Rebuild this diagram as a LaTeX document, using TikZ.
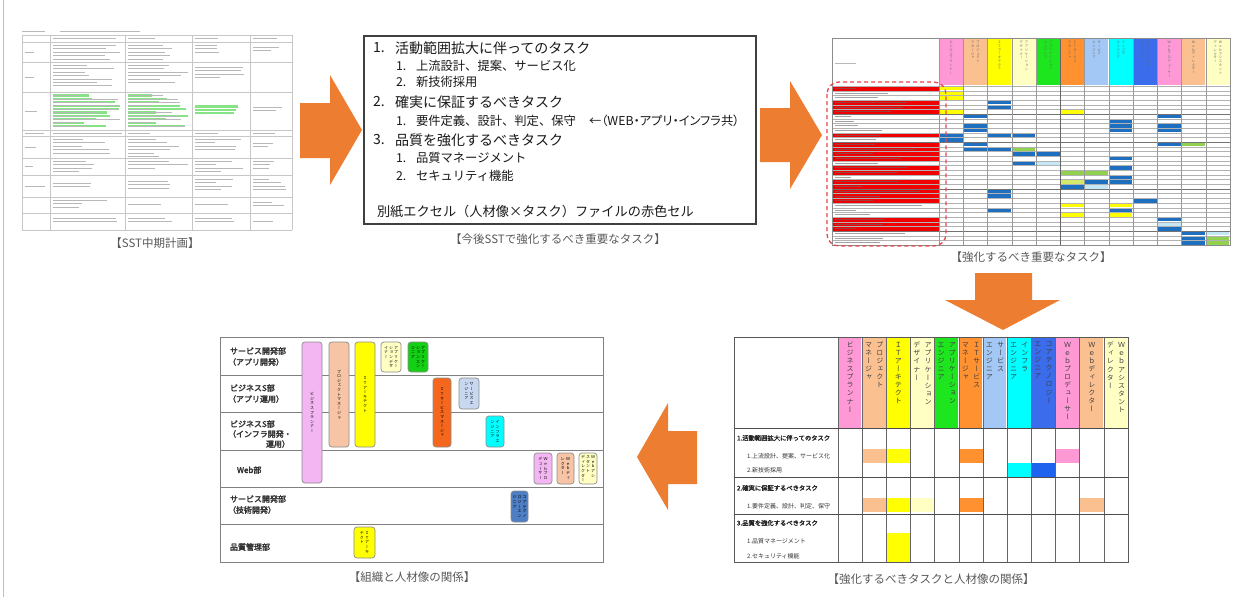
\documentclass[tikz,border=0pt]{standalone}
\usepackage{fontspec}
\setmainfont{Noto Sans CJK JP}[AutoFakeBold=2.5]
\newfontfamily\vfont{Noto Sans CJK JP}[RawFeature=+vert]
\newfontfamily\pfont{Noto Sans CJK JP}[RawFeature=+palt]
\ExplSyntaxOn
\NewDocumentCommand \vcol { O{1.15} m }
  {
    \vtop
      {
        \baselineskip = #1 em
        \lineskiplimit = -100pt
        \lineskip = 0pt
        \tl_map_inline:nn {#2} { \hbox_to_wd:nn {1em} { \hss ##1 \hss } }
      }
  }
\ExplSyntaxOff
\newcommand\vtwo[3][0.6em]{\hbox{\vcol{#3}\hspace{#1}\vcol{#2}}}
\newcommand\vthree[4][0.25em]{\hbox{\vcol{#4}\hspace{#1}\vcol{#3}\hspace{#1}\vcol{#2}}}
\newcommand\hdA{\vcol{ビジネスプランナー}}
\newcommand\hdB{\vtwo{プロジェクト}{マネージャ}}
\newcommand\hdC{\vcol{ＩＴアーキテクト}}
\newcommand\hdD{\vtwo{アプリケーション}{デザイナー}}
\newcommand\hdE{\vtwo{アプリケーション}{エンジニア}}
\newcommand\hdF{\vtwo{ＩＴサービス}{マネージャ}}
\newcommand\hdG{\vtwo{サービス}{エンジニア}}
\newcommand\hdH{\vtwo{インフラ}{エンジニア}}
\newcommand\hdI{\vtwo{コアテクノロジー}{エンジニア}}
\newcommand\hdJ{\vcol{Ｗｅｂプロデューサー}}
\newcommand\hdK{\vcol{Ｗｅｂディレクター}}
\newcommand\hdL{\vtwo{Ｗｅｂアシスタント}{ディレクター}}
\definecolor{arr}{HTML}{ED7D31}
\definecolor{cPink}{HTML}{FF99D6}
\definecolor{cPeach}{HTML}{FAC090}
\definecolor{cYel}{HTML}{FFFF00}
\definecolor{cPale}{HTML}{FFFFC4}
\definecolor{cGreen}{HTML}{1EE61E}
\definecolor{cOrange}{HTML}{FF9130}
\definecolor{cLBlue}{HTML}{A3C8F5}
\definecolor{cCyan}{HTML}{00FFFF}
\definecolor{cBlue}{HTML}{3A6CEB}
\definecolor{cBlue2}{HTML}{1D63EE}
\definecolor{cellB}{HTML}{1F6FC0}
\definecolor{cellG}{HTML}{92D050}
\definecolor{cellL}{HTML}{C5E8F7}
\definecolor{cellYG}{HTML}{D4E86A}
\definecolor{cellY}{HTML}{FFFF00}
\definecolor{xlred}{HTML}{F00000}
\definecolor{dashred}{HTML}{E8464A}
\definecolor{capgray}{HTML}{595959}
\definecolor{oPink}{HTML}{F4B6F2}
\definecolor{oPeach}{HTML}{F7C5A5}
\definecolor{oGreen}{HTML}{14D014}
\definecolor{oOrange}{HTML}{F5671C}
\definecolor{oLBlue}{HTML}{C8D8F0}
\definecolor{oBlue}{HTML}{4E7EC4}
\definecolor{hlgreen}{HTML}{86E486}
\newcommand\tls[5]{\foreach \ii in {1,...,#4}{\pgfmathsetmacro\ll{#1+3+(#3-#1-6)*(0.35+0.65*rnd)}\draw[#5] ({#1+3},{#2+\ii*3.4}) -- (\ll,{#2+\ii*3.4});}}
\newcommand\obx[7]{\node[obox,fill=#6,minimum width={#4-#2},minimum height={#5-#3},font=\vfont\fontsize{4}{5}\selectfont] (#1) at ({(#2+#4)/2},{(#3+#5)/2}) {#7};}
\begin{document}
\begin{tikzpicture}[x=1pt,y=-1pt,
  every node/.style={inner sep=0pt,outer sep=0pt},
  captxt/.style={text=capgray,font=\fontsize{11.5}{12}\selectfont},
  obox/.style={draw=black!45,line width=0.7pt,rounded corners=3pt},
  tgray/.style={line width=1pt,black!28},
  tgreen/.style={line width=2.2pt,hlgreen},
  blockarrow/.style={fill=arr},
  lbltxt/.style={anchor=west,text=black!80,font=\bfseries\fontsize{8}{9}\selectfont},
  sectxt/.style={anchor=west,text=black!85,font=\bfseries\fontsize{6.3}{7}\selectfont},
  subtxt/.style={anchor=west,text=black!80,font=\fontsize{6}{7}\selectfont},
  bigtxt/.style={anchor=west,text=black!90,font=\fontsize{14}{16}\selectfont},
  midtxt/.style={anchor=west,text=black!90,font=\fontsize{12.3}{14}\selectfont}]
\pgfmathsetseed{7}
\useasboundingbox (0,0) rectangle (1244,597);
\fill[white] (0,0) rectangle (1244,597);
\draw[black!25,line width=0.8pt] (3,0) -- (3,597);

% ---------- top-left: spreadsheet thumbnail ----------
\draw[tgray,line width=0.8pt] (22,31) -- (45,31);
\draw[tgray,line width=0.8pt] (60,31) -- (140,31);
\foreach \yy in {35,42,62,92,130,136,158,175,197,213,230} \draw[black!22,line width=0.4pt] (22,\yy) -- (292,\yy);
\foreach \xx in {22,50,125,192,250,292} \draw[black!22,line width=0.4pt] (\xx,35) -- (\xx,230);
\tls{50}{35}{125}{1}{tgray}\tls{125}{35}{192}{1}{tgray}\tls{192}{35}{250}{1}{tgray}\tls{250}{35}{292}{1}{tgray}
\tls{22}{48.6}{50}{1}{tgray}\tls{50}{42}{125}{5}{tgray}\tls{125}{42}{192}{5}{tgray}\tls{192}{42}{250}{3}{tgray}\tls{250}{44}{292}{2}{tgray}
\tls{22}{73.6}{50}{1}{tgray}\tls{50}{62}{125}{7}{tgray}\tls{125}{62}{192}{6}{tgray}\tls{192}{64}{250}{4}{tgray}
\tls{22}{107.6}{50}{1}{tgray}\tls{50}{92}{125}{10}{tgreen}\tls{125}{92}{192}{10}{tgreen}\tls{192}{103}{250}{3}{tgreen}\tls{250}{104}{292}{2}{tgray}
\tls{50}{92}{125}{10}{tgray,line width=0.6pt}\tls{125}{92}{192}{10}{tgray,line width=0.6pt}
\tls{22}{129.6}{50}{1}{tgray}\tls{50}{129.6}{125}{1}{tgray}\tls{125}{129.6}{192}{1}{tgray}\tls{192}{129.6}{250}{1}{tgray}\tls{250}{129.6}{292}{1}{tgray}
\tls{22}{143.6}{50}{1}{tgray}\tls{50}{136}{125}{5}{tgray}\tls{125}{136}{192}{6}{tgray}\tls{192}{136}{250}{4}{tgray}\tls{250}{140}{292}{2}{tgray}
\tls{22}{163}{50}{1}{tgray}\tls{50}{158}{125}{4}{tgray}\tls{125}{158}{192}{3}{tgray}\tls{192}{158}{250}{4}{tgray}\tls{250}{158}{292}{3}{tgray}
\tls{22}{182.6}{50}{1}{tgray}\tls{50}{180}{125}{2}{tgray}\tls{125}{178}{192}{3}{tgray}\tls{192}{176}{250}{4}{tgray}\tls{250}{176}{292}{4}{tgray}
\tls{50}{197}{125}{3}{tgray}\tls{125}{201}{192}{1}{tgray}\tls{192}{201}{250}{1}{tgray}\tls{250}{199}{292}{2}{tgray}
\tls{50}{215}{125}{2}{tgray}\tls{125}{215}{192}{2}{tgray}\tls{192}{215}{250}{2}{tgray}\tls{250}{218}{292}{1}{tgray}
\node[captxt] (cap1) at (155,243) {【SST中期計画】};

% ---------- arrows ----------
\fill[blockarrow] (300,103) -- (330,103) -- (330,75) -- (362,130) -- (330,185) -- (330,158) -- (300,158) -- cycle;
\fill[blockarrow] (760,108) -- (790,108) -- (790,81) -- (822,135) -- (790,189) -- (790,162) -- (760,162) -- cycle;
\fill[blockarrow] (975,273) -- (1032,273) -- (1032,300) -- (1060,300) -- (1003,330) -- (945,300) -- (975,300) -- cycle;
\fill[blockarrow] (697,431) -- (697,484) -- (668,484) -- (668,510) -- (637,457) -- (668,403) -- (668,431) -- cycle;

% ---------- center task box ----------
\node[draw=black!75,line width=1.4pt,minimum width=392,minimum height=188,anchor=north west] (tasks) at (364,36) {};
\node[bigtxt] (n1) at (373,48) {1.};
\node[bigtxt] (t1) at (395,48) {活動範囲拡大に伴ってのタスク};
\node[midtxt] (n11) at (396,66) {1.};
\node[midtxt] (t11) at (416,66) {上流設計、提案、サービス化};
\node[midtxt] (n12) at (396,82) {2.};
\node[midtxt] (t12) at (416,82) {新技術採用};
\node[bigtxt] (n2) at (373,102) {2.};
\node[bigtxt] (t2) at (395,102) {確実に保証するべきタスク};
\node[midtxt] (n21) at (396,121) {1.};
\node[midtxt] (t21) at (416,121) {要件定義、設計、判定、保守};
\node[anchor=west,text=black!90,font=\pfont\fontsize{12.3}{14}\selectfont] (t21b) at (589,121) {←（WEB・アプリ・インフラ共）};
\node[bigtxt] (n3) at (373,140) {3.};
\node[bigtxt] (t3) at (395,140) {品質を強化するべきタスク};
\node[midtxt] (n31) at (396,158) {1.};
\node[midtxt] (t31) at (416,158) {品質マネージメント};
\node[midtxt] (n32) at (396,176) {2.};
\node[midtxt] (t32) at (416,176) {セキュリティ機能};
\node[anchor=west,text=black!90,font=\fontsize{13.2}{15}\selectfont] (t4) at (377,212) {別紙エクセル（人材像×タスク）ファイルの赤色セル};
\node[captxt] (cap2) at (558,239) {【今後SSTで強化するべき重要なタスク】};

% ---------- top-right: excel thumbnail ----------
\def\TRx{939}\def\TRw{24.25}\def\TRy{86}\def\TRh{4.68}
\foreach \c/\col in {1/cPink,2/cPeach,3/cYel,4/cPale,5/cGreen,6/cOrange,7/cLBlue,8/cCyan,9/cBlue,10/cPink,11/cPeach,12/cPale}
  \fill[\col] ({\TRx+(\c-1)*\TRw+0.5},38.5) rectangle ({\TRx+\c*\TRw-0.5},85);
\foreach \c/\txt in {1/\hdA,2/\hdB,3/\hdC,4/\hdD,5/\hdE,6/\hdF,7/\hdG,8/\hdH,9/\hdI,10/\hdJ,11/\hdK,12/\hdL}
  \node[anchor=north,text=black!60,font=\vfont\fontsize{3.3}{4}\selectfont] (trh\c) at ({\TRx+(\c-0.5)*\TRw},41) {\txt};
\draw[tgray,line width=0.8pt] (835,63) -- (856,63);
\foreach \r in {0,3,4,5,10,12,13,14,15,17,18,20,21,22,23,24,28,29,30}
  \fill[xlred] (832,{\TRy+\r*\TRh}) rectangle (939,{\TRy+(\r+1)*\TRh});
\foreach \r in {0,...,33}{
  \pgfmathsetmacro\ll{850+75*rnd}
  \draw[line width=0.9pt,black!60,opacity=0.6] (835,{\TRy+(\r+0.5)*\TRh}) -- (\ll,{\TRy+(\r+0.5)*\TRh});
}
\foreach \r/\c/\col in {0/1/cellY,1/1/cellY,2/1/cellY,3/3/cellB,4/3/cellB,5/1/cellY,5/6/cellY,6/2/cellB,6/10/cellB,7/8/cellB,8/2/cellB,8/8/cellB,8/10/cellB,9/2/cellB,9/8/cellB,9/10/cellB,10/1/cellB,10/3/cellB,10/4/cellB,11/1/cellB,12/2/cellB,12/10/cellB,12/11/cellG,13/2/cellB,13/3/cellB,13/4/cellG,14/4/cellB,14/5/cellB,15/8/cellB,16/4/cellB,16/5/cellL,17/8/cellB,18/6/cellG,18/7/cellG,19/8/cellB,20/6/cellYG,20/7/cellB,20/8/cellB,21/6/cellB,21/7/cellL,22/3/cellB,23/3/cellB,24/9/cellB,25/6/cellY,25/8/cellY,26/3/cellB,26/8/cellB,27/6/cellY,27/8/cellY,28/10/cellB,29/10/cellL,30/10/cellB,31/11/cellB,31/12/cellL,32/11/cellB,32/12/cellG,33/11/cellB,33/12/cellG}
  \fill[\col] ({\TRx+(\c-1)*\TRw+0.6},{\TRy+\r*\TRh+0.4}) rectangle ({\TRx+\c*\TRw-0.6},{\TRy+(\r+1)*\TRh-0.4});
\foreach \r in {0,...,34} \draw[black!30,line width=0.3pt] (832,{\TRy+\r*\TRh}) -- (1230,{\TRy+\r*\TRh});
\foreach \r in {6,12,22,31} \draw[black!55,line width=0.7pt] (832,{\TRy+\r*\TRh}) -- (1230,{\TRy+\r*\TRh});
\foreach \c in {0,...,12} \draw[black!40,line width=0.4pt] ({\TRx+\c*\TRw},38) -- ({\TRx+\c*\TRw},245);
\draw[black!60,line width=0.8pt] ({\TRx+5*\TRw},38) -- ({\TRx+5*\TRw},245);
\draw[black!45,line width=0.5pt] (832,38) rectangle (1230,245);
\draw[dashred,line width=1.3pt,dash pattern=on 4pt off 3pt,rounded corners=12pt] (827,82) rectangle (946,246);
\node[captxt] (cap3) at (1031,257) {【強化するべき重要なタスク】};

% ---------- bottom-right: task x role table ----------
\def\BRx{838}\def\BRw{24.1667}
\foreach \c/\col in {1/cPink,2/cPeach,3/cYel,4/cPale,5/cGreen,6/cOrange,7/cLBlue,8/cCyan,9/cBlue,10/cPink,11/cPeach,12/cPale}
  \fill[\col] ({\BRx+(\c-1)*\BRw+0.8},338) rectangle ({\BRx+\c*\BRw-0.8},427.5);
\foreach \c/\txt in {1/\hdA,2/\hdB,3/\hdC,4/\hdD,5/\hdE,6/\hdF,7/\hdG,8/\hdH,9/\hdI,10/\hdJ,11/\hdK,12/\hdL}
  \node[anchor=north,text=black!75,font=\vfont\fontsize{7}{8}\selectfont] (brh\c) at ({\BRx+(\c-0.5)*\BRw},342) {\txt};
\foreach \c/\ya/\yb/\col in {2/449/463/cPeach,3/449/463/cYel,6/449/463/cOrange,10/449/463/cPink,8/463/477/cCyan,9/463/477/cBlue2,2/498/512/cPeach,3/498/512/cYel,4/498/512/cPale,6/498/512/cOrange,11/498/512/cPeach,3/533/562/cYel}
  \fill[\col] ({\BRx+(\c-1)*\BRw},\ya) rectangle ({\BRx+\c*\BRw},\yb);
\foreach \c in {0,...,12} \draw[black!60,line width=0.6pt] ({\BRx+\c*\BRw},337) -- ({\BRx+\c*\BRw},562);
\foreach \yy in {428,477,514} \draw[black!70,line width=0.8pt] (734,\yy) -- (1128,\yy);
\draw[black!65,line width=0.8pt] (734,337) rectangle (1128,562);
\node[sectxt] (s1) at (737,438) {1.活動範囲拡大に伴ってのタスク};
\node[subtxt] (s11) at (747,456) {1.上流設計、提案、サービス化};
\node[subtxt] (s12) at (747,470) {2.新技術採用};
\node[sectxt] (s2) at (737,488) {2.確実に保証するべきタスク};
\node[subtxt] (s21) at (747,506) {1.要件定義、設計、判定、保守};
\node[sectxt] (s3) at (737,523) {3.品質を強化するべきタスク};
\node[subtxt] (s31) at (747,541) {1.品質マネージメント};
\node[subtxt] (s32) at (747,556) {2.セキュリティ機能};
\node[captxt] (cap4) at (931,579) {【強化するべきタスクと人材像の関係】};

% ---------- bottom-left: organisation x role ----------
\draw[black!50,line width=0.8pt] (220,337) rectangle (603,562);
\foreach \yy in {375,412,450,487,524} \draw[black!50,line width=0.7pt] (220,\yy) -- (603,\yy);
\node[lbltxt] (o1a) at (230,351) {サービス開発部};
\node[lbltxt] (o1b) at (228,362) {（アプリ開発）};
\node[lbltxt] (o2a) at (230,388) {ビジネスS部};
\node[lbltxt] (o2b) at (228,399) {（アプリ運用）};
\node[lbltxt] (o3a) at (230,424) {ビジネスS部};
\node[lbltxt] (o3b) at (228,434) {（インフラ開発・};
\node[lbltxt,anchor=east] (o3c) at (290,444) {運用）};
\node[lbltxt] (o4) at (237,470) {Web部};
\node[lbltxt] (o5a) at (230,499) {サービス開発部};
\node[lbltxt] (o5b) at (228,510) {（技術開発）};
\node[lbltxt] (o6) at (230,547) {品質管理部};
\obx{bp}{302}{342}{322}{483}{oPink}{\vcol{ビジネスプランナー}}
\obx{pm}{329}{342}{349}{447}{oPeach}{\vcol{プロジェクトマネージャ}}
\obx{ia}{355}{342}{375}{447}{cYel}{\vcol{ＩＴアーキテクト}}
\obx{ad}{381}{342}{401}{372}{cPale}{\vthree{アプリケー}{ションデザ}{イナー}}
\obx{ae}{408}{342}{428}{372}{oGreen}{\vthree{アプリケー}{ションエン}{ジニア}}
\obx{sm}{433}{378}{451}{447}{oOrange}{\vcol{ＩＴサービスマネージャ}}
\obx{se}{459}{378}{479}{409}{oLBlue}{\vtwo[0.3em]{サービスエ}{ンジニア}}
\obx{ie}{486}{416}{504}{447}{cCyan}{\vtwo[0.3em]{インフラエ}{ンジニア}}
\obx{te}{511}{491}{528}{522}{oBlue}{\vthree{コアテクノ}{ロジーエン}{ジニア}}
\obx{wp}{534}{453}{552}{484}{oPink}{\vtwo[0.3em]{Ｗｅｂプロ}{デューサー}}
\obx{wd}{557}{453}{574}{484}{oPeach}{\vtwo[0.3em]{Ｗｅｂディ}{レクター}}
\obx{wa}{579}{453}{597}{484}{cPale}{\vthree{Ｗｅｂアシ}{スタント}{ディレクター}}
\obx{ia2}{354}{527}{375}{558}{cYel}{\vtwo[0.3em]{ＩＴアーキ}{テクト}}
\node[captxt] (cap5) at (412,577) {【組織と人材像の関係】};
\end{tikzpicture}
\end{document}
